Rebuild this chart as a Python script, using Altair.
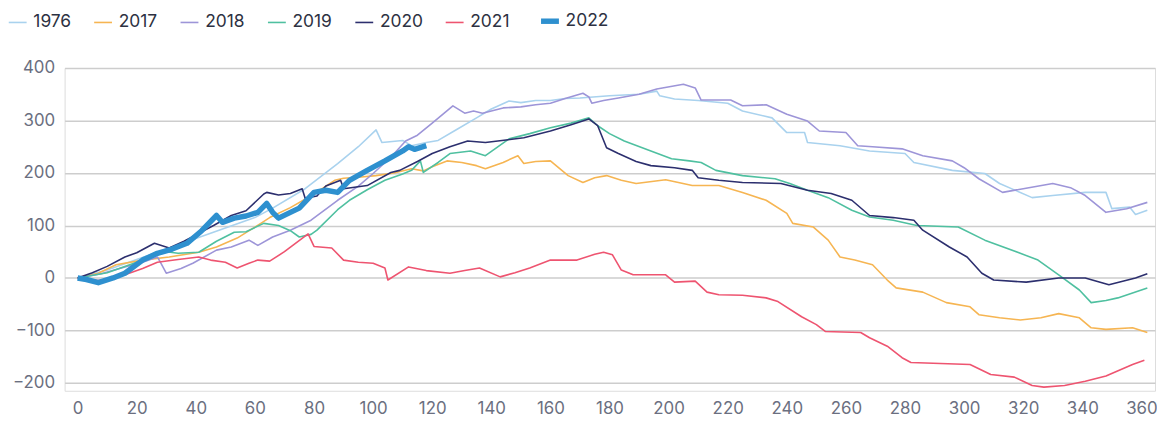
import altair as alt
import pandas as pd

years = ["1976", "2017", "2018", "2019", "2020", "2021", "2022"]
colors = ["#a9d2ee", "#f6b552", "#9d95d8", "#4fc0a0", "#2c2f6e", "#ee5470", "#2e90cf"]
x_ticks = list(range(0, 361, 20))
y_ticks = [-200, -100, 0, 100, 200, 300, 400]

d1976 = [0, 10, 20, 30, 40, 50, 60, 66, 77, 88, 95, 101, 103, 110, 113, 118, 122, 128, 135, 140, 146, 150, 155, 160, 165, 170, 180, 190, 196, 197, 202, 210, 220, 225, 235, 240, 246, 247, 258, 268, 280, 283, 296, 307, 312, 323, 330, 341, 348, 350, 356, 358, 362]
v1976 = [0, 15, 35, 55, 75, 95, 115, 133, 170, 218, 250, 282, 258, 262, 252, 258, 262, 282, 305, 322, 337, 334, 338, 338, 342, 343, 347, 350, 356, 347, 341, 338, 333, 318, 305, 277, 277, 258, 252, 242, 237, 220, 205, 199, 180, 153, 157, 163, 163, 132, 135, 121, 129]

d2017 = [0, 7, 13, 22, 31, 41, 47, 54, 62, 65, 72, 80, 87, 90, 95, 101, 107, 113, 117, 120, 125, 130, 135, 138, 144, 149, 151, 155, 160, 166, 171, 175, 179, 184, 189, 199, 208, 217, 225, 233, 240, 242, 249, 254, 258, 263, 269, 274, 277, 286, 294, 302, 305, 312, 319, 326, 332, 339, 343, 348, 357, 362]
v2017 = [0, 9, 25, 34, 40, 49, 59, 76, 104, 115, 134, 160, 186, 190, 192, 195, 200, 208, 204, 212, 223, 220, 214, 208, 220, 233, 218, 222, 223, 195, 182, 191, 195, 186, 180, 187, 176, 176, 163, 148, 123, 104, 97, 72, 40, 34, 25, -4, -19, -27, -47, -55, -70, -76, -80, -76, -68, -76, -95, -98, -95, -104]

d2018 = [0, 8, 16, 22, 27, 28, 30, 35, 39, 47, 52, 58, 61, 66, 72, 79, 88, 95, 100, 106, 111, 115, 120, 127, 131, 134, 137, 144, 150, 155, 160, 165, 171, 173, 174, 178, 183, 190, 196, 205, 209, 211, 221, 225, 233, 240, 247, 251, 260, 264, 269, 279, 286, 296, 300, 305, 313, 320, 330, 336, 341, 348, 355, 362]
v2018 = [0, 8, 21, 30, 40, 30, 9, 18, 28, 53, 59, 72, 62, 78, 91, 110, 148, 175, 199, 230, 261, 272, 295, 328, 314, 318, 314, 324, 326, 330, 333, 342, 352, 345, 333, 338, 343, 350, 360, 369, 362, 339, 339, 328, 330, 312, 299, 280, 277, 252, 250, 246, 233, 223, 210, 189, 163, 170, 180, 172, 157, 125, 132, 144]

d2019 = [0, 10, 20, 30, 34, 41, 47, 53, 57, 63, 68, 72, 75, 79, 81, 88, 92, 98, 104, 110, 113, 116, 117, 122, 126, 133, 138, 146, 153, 160, 167, 173, 176, 180, 185, 194, 201, 207, 211, 216, 225, 236, 241, 247, 254, 262, 268, 276, 284, 298, 307, 319, 325, 332, 339, 343, 348, 352, 362]
v2019 = [0, 10, 30, 50, 47, 49, 70, 87, 88, 104, 100, 90, 78, 83, 91, 130, 148, 168, 186, 198, 205, 223, 201, 220, 237, 242, 233, 265, 275, 286, 295, 305, 290, 275, 261, 242, 227, 223, 220, 205, 195, 189, 180, 167, 153, 129, 116, 110, 100, 97, 72, 47, 34, 6, -23, -47, -43, -38, -19]

d2020 = [0, 5, 10, 16, 20, 26, 31, 36, 41, 46, 52, 57, 63, 64, 68, 72, 76, 77, 81, 84, 89, 90, 98, 106, 109, 115, 120, 126, 132, 138, 145, 151, 160, 167, 173, 176, 179, 183, 189, 194, 202, 208, 210, 217, 225, 238, 247, 255, 262, 268, 276, 283, 286, 295, 301, 306, 310, 321, 332, 341, 349, 358, 362]
v2020 = [0, 10, 22, 40, 48, 66, 57, 70, 85, 100, 119, 128, 160, 163, 158, 161, 170, 152, 156, 175, 186, 170, 176, 201, 205, 222, 237, 250, 261, 258, 263, 267, 280, 292, 303, 290, 248, 237, 222, 214, 210, 205, 191, 186, 182, 180, 167, 161, 148, 119, 115, 110, 91, 59, 40, 9, -4, -8, 0, 0, -13, 0, 8]

d2021 = [0, 7, 12, 16, 22, 27, 34, 41, 45, 50, 54, 58, 61, 65, 70, 78, 80, 86, 90, 95, 100, 104, 105, 112, 118, 126, 131, 136, 143, 148, 153, 160, 169, 175, 178, 181, 184, 188, 199, 202, 209, 213, 217, 225, 233, 237, 245, 250, 253, 265, 268, 274, 279, 282, 302, 309, 317, 323, 327, 334, 341, 348, 357, 361]
v2021 = [0, -5, 0, 6, 18, 30, 35, 40, 34, 30, 19, 28, 34, 32, 50, 84, 60, 57, 34, 30, 28, 19, -4, 21, 14, 9, 14, 19, 2, 10, 19, 34, 34, 45, 49, 44, 15, 6, 6, -8, -6, -27, -32, -33, -38, -45, -74, -89, -102, -104, -114, -130, -152, -161, -165, -184, -189, -205, -208, -205, -197, -187, -165, -157]

d2022 = [0, 3, 7, 12, 16, 22, 27, 32, 37, 42, 47, 49, 53, 57, 61, 64, 66, 68, 72, 75, 80, 84, 88, 92, 98, 104, 110, 112, 114, 118]
v2022 = [0, -3, -9, 0, 9, 34, 47, 55, 66, 90, 119, 106, 114, 118, 125, 142, 125, 114, 125, 133, 163, 167, 163, 186, 205, 223, 242, 250, 245, 252]

series = {
    "1976": (d1976, v1976),
    "2017": (d2017, v2017),
    "2018": (d2018, v2018),
    "2019": (d2019, v2019),
    "2020": (d2020, v2020),
    "2021": (d2021, v2021),
    "2022": (d2022, v2022),
}

rows = []
for y in years:
    ds, vs = series[y]
    for d, v in zip(ds, vs):
        rows.append({"year": y, "day": d, "value": v})
df = pd.DataFrame(rows)

FONT = "Inter"

legend = alt.Legend(
    title=None,
    orient="none",
    legendX=-56,
    legendY=-56,
    direction="horizontal",
    symbolType="stroke",
    symbolSize=324,
    symbolStrokeWidth={"expr": "datum.value === '2022' ? 5.5 : 1.6"},
    labelFontSize=17.5,
    labelFont=FONT,
    labelColor="#2d3142",
    labelOffset=7,
    columnPadding=19,
    padding=0,
)

x_enc = alt.X("day:Q",
              scale=alt.Scale(domain=[-4.4, 364.6], nice=False, zero=False),
              axis=alt.Axis(values=x_ticks, title=None, grid=False, domain=False, ticks=False,
                            labelFontSize=17, labelFont=FONT, labelColor="#6b6f80",
                            labelPadding=10, labelFlush=False))
y_enc = alt.Y("value:Q",
              scale=alt.Scale(domain=[-215, 400], nice=False, zero=False),
              axis=alt.Axis(values=y_ticks, title=None, grid=True, gridColor="#cdcdcd", gridWidth=1.5,
                            domain=False, ticks=False, labelFontSize=17, labelFont=FONT,
                            labelColor="#6b6f80", labelPadding=10))
c_enc = alt.Color("year:N", scale=alt.Scale(domain=years, range=colors), legend=legend)

base = alt.Chart(df)
thin = base.transform_filter(alt.datum.year != "2022").mark_line(
    strokeWidth=1.6, strokeJoin="round").encode(x=x_enc, y=y_enc, color=c_enc, detail="year:N")
thick = base.transform_filter(alt.datum.year == "2022").mark_line(
    strokeWidth=5.5, strokeJoin="round", strokeCap="butt").encode(x=x_enc, y=y_enc, color=c_enc)

chart = alt.layer(thin, thick).properties(
    width=1098,
    height=325,
    autosize=alt.AutoSizeParams(type="none"),
    padding={"left": 57, "top": 59, "right": 2, "bottom": 28},
).configure_view(stroke=None).configure(background="white")

chart.save("out.html", embed_options={"renderer": "svg", "actions": False})
